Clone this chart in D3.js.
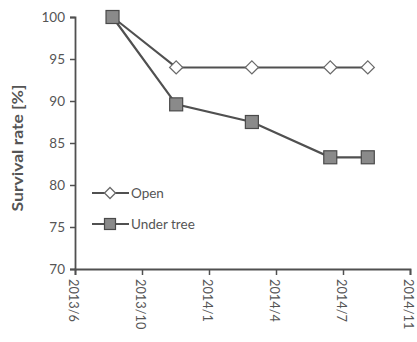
<!DOCTYPE html>
<html><head><meta charset="utf-8">
<script src="https://cdn.jsdelivr.net/npm/d3@7"></script>
<style>body{margin:0;background:#fff}svg{display:block}</style>
</head><body><svg id="c" width="417" height="342"></svg>
<script>
const dates = ["2013-08-18","2013-11-21","2014-03-14","2014-07-09","2014-09-03"];
const openVals = [100, 94, 94, 94, 94];
const underVals = [100, 89.6, 87.5, 83.3, 83.3];
const xTickDates = ["2013-06-23","2013-10-01","2014-01-09","2014-04-19","2014-07-28","2014-11-05"];
const yTicks = [70, 75, 80, 85, 90, 95, 100];
const seriesNames = ["Open", "Under tree"];

const parse = d3.timeParse("%Y-%m-%d");
const svg = d3.select("#c");
const L = 75, R = 410, T = 17, B = 269;
const x = d3.scaleTime().domain([parse(xTickDates[0]), parse(xTickDates[xTickDates.length-1])]).range([L, R]);
const y = d3.scaleLinear().domain([70, 100]).range([B, T]);
const ink = "#505050", txt = "#555";
const font = "Lato, 'Open Sans', sans-serif";

// axes
const yAxis = svg.append("g").attr("transform", `translate(${L},0)`)
  .call(d3.axisLeft(y).tickValues(yTicks).tickSize(5).tickPadding(5));
const xAxis = svg.append("g").attr("transform", `translate(0,${B})`)
  .call(d3.axisBottom(x).tickValues(xTickDates.map(parse)).tickFormat(d3.timeFormat("%Y/%-m")).tickSize(6));
[yAxis, xAxis].forEach(g => {
  g.select(".domain").attr("stroke", ink).attr("stroke-width", 1.8);
  g.selectAll(".tick line").attr("stroke", ink).attr("stroke-width", 1.5);
  g.selectAll("text").attr("fill", txt).attr("font-family", font).attr("font-size", 13.5);
});
xAxis.selectAll("text").attr("font-size", 12.8).attr("transform", "rotate(90)").attr("text-anchor", "start")
  .attr("x", 10).attr("y", 0).attr("dy", "0.48em");

svg.append("text").attr("transform", `translate(23,148) rotate(-90)`)
  .attr("text-anchor", "middle").attr("font-family", font).attr("font-weight", "bold")
  .attr("font-size", 15).attr("textLength", 127).attr("lengthAdjust", "spacingAndGlyphs")
  .attr("fill", txt).text("Survival rate [%]");

const line = d3.line().x((d,i) => x(parse(dates[i]))).y(d => y(d));
svg.append("path").datum(openVals).attr("d", line).attr("fill", "none").attr("stroke", ink).attr("stroke-width", 2);
svg.append("path").datum(underVals).attr("d", line).attr("fill", "none").attr("stroke", ink).attr("stroke-width", 2.2);

const diamond = (cx, cy, r) => `M${cx},${cy-r}L${cx+r},${cy}L${cx},${cy+r}L${cx-r},${cy}Z`;
svg.selectAll(".op").data(openVals.slice(1)).join("path")
  .attr("d", (d,i) => diamond(x(parse(dates[i+1])), y(d), 6.5))
  .attr("fill", "#fff").attr("stroke", "#6a6a6a").attr("stroke-width", 1.3);
svg.selectAll(".ut").data(underVals).join("rect")
  .attr("x", (d,i) => x(parse(dates[i])) - 6.5).attr("y", d => y(d) - 6.5)
  .attr("width", 13).attr("height", 13)
  .attr("fill", "#8a8a8a").attr("stroke", "#4a4a4a").attr("stroke-width", 1.2);

// legend
const lg = svg.append("g");
const ly = [193, 224];
seriesNames.forEach((name, i) => {
  lg.append("line").attr("x1", 92).attr("x2", 129).attr("y1", ly[i]).attr("y2", ly[i])
    .attr("stroke", ink).attr("stroke-width", 2);
  if (i === 0) lg.append("path").attr("d", diamond(110, ly[i], 5.5)).attr("fill", "#fff").attr("stroke", "#6a6a6a").attr("stroke-width", 1.3);
  else lg.append("rect").attr("x", 104.5).attr("y", ly[i]-5.5).attr("width", 11).attr("height", 11)
    .attr("fill", "#8a8a8a").attr("stroke", "#4a4a4a").attr("stroke-width", 1.2);
  lg.append("text").attr("x", 131).attr("y", ly[i]).attr("dy", "0.35em")
    .attr("font-family", font).attr("font-size", 13.5).attr("fill", txt).text(name);
});
</script></body></html>
